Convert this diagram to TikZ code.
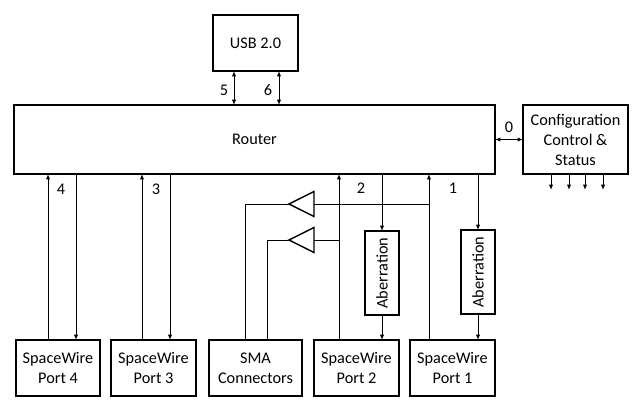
\documentclass[tikz,border=0pt]{standalone}
\usepackage{fontspec}
\setmainfont{Carlito}
\usetikzlibrary{arrows.meta, positioning, shapes.geometric}
\tikzset{
	bx/.style 2 args={draw, line width=1.1pt, align=center, inner sep=0pt, outer sep=0pt,
		minimum width=#1*0.75pt, minimum height=#2*0.75pt, font=\fontsize{12.2}{15}\selectfont},
	sig/.style={line width=0.75pt, -{Latex[length=4pt,width=3.2pt]}},
	plain/.style={line width=0.75pt},
	both/.style={line width=0.75pt, {Latex[length=4pt,width=3.2pt]}-{Latex[length=4pt,width=3.2pt]}},
	buf/.style={draw, line width=1.1pt, isosceles triangle, shape border rotate=180,
		isosceles triangle stretches, inner sep=0pt, outer sep=0pt,
		minimum width=18.75pt, minimum height=18.75pt, anchor=apex},
	lbl/.style={font=\fontsize{12.2}{15}\selectfont, inner sep=0pt}
}
\begin{document}
\begin{tikzpicture}[x=0.75pt, y=-0.75pt]
	\useasboundingbox (0,0) rectangle (637,405);
	
	% Main blocks
	\node[bx={481}{69}] (router) at (254.5,139.5) {Router};
	\node[bx={85}{56}] (usb) at (255.5,43) {USB 2.0};
	\node[bx={105}{69}] (config) at (575.5,139.5) {Configuration\\Control \&\\Status};
	
	% Bottom row
	\node[bx={84}{56}] (port4) at (58,368) {SpaceWire\\Port 4};
	\node[bx={85}{56}] (port3) at (153.5,368) {SpaceWire\\Port 3};
	\node[bx={93}{56}] (sma) at (255.5,368) {SMA\\Connectors};
	\node[bx={85}{56}] (port2) at (356.5,368) {SpaceWire\\Port 2};
	\node[bx={85}{56}] (port1) at (452.5,368) {SpaceWire\\Port 1};
	
	% Aberration blocks
	\node[bx={84}{34}, rotate=90] (aber2) at (382,273) {Aberration};
	\node[bx={84}{34}, rotate=90] (aber1) at (478,272) {Aberration};
	
	% Wire positions
	\foreach \n/\x in {up4/48, dn4/76, up3/142, dn3/170, ln1/245, ln2/267, up2/339, dn2/382, up1/429, dn1/478, usb5/234, usb6/279, st1/551, st2/569, st3/585, st4/603}
		\coordinate (\n) at (\x,190);
	
	% Line drivers
	\node[buf] (buf1) at (289,204) {};
	\node[buf] (buf2) at (289,240) {};
	
	% USB links
	\draw[both] (usb.south -| usb5) -- (router.north -| usb5);
	\draw[both] (usb.south -| usb6) -- (router.north -| usb6);
	\draw[both] (router.east |- config.west) -- (config.west);
	
	% Status outputs
	\foreach \n in {st1,st2,st3,st4}
		\draw[sig] (config.south -| \n) -- (\n);
	
	% Ports 4 and 3
	\draw[sig] (port4.north -| up4) -- (router.south -| up4);
	\draw[sig] (router.south -| dn4) -- (port4.north -| dn4);
	\draw[sig] (port3.north -| up3) -- (router.south -| up3);
	\draw[sig] (router.south -| dn3) -- (port3.north -| dn3);
	
	% Ports 2 and 1
	\draw[sig] (port2.north -| up2) -- (router.south -| up2);
	\draw[sig] (router.south -| dn2) -- (aber2.east);
	\draw[sig] (aber2.west) -- (port2.north -| dn2);
	\draw[sig] (port1.north -| up1) -- (router.south -| up1);
	\draw[sig] (router.south -| dn1) -- (aber1.east);
	\draw[sig] (aber1.west) -- (port1.north -| dn1);
	
	% SMA taps
	\draw[plain] (buf1.lower side) -- (buf1.lower side -| up1);
	\draw[plain] (buf2.lower side) -- (buf2.lower side -| up2);
	\draw[plain] (buf1.apex) -| (sma.north -| ln1);
	\draw[plain] (buf2.apex) -| (sma.north -| ln2);
	
	% Link numbers
	\node[lbl] (n0) at (509,127) {0};
	\node[lbl] (n1) at (453,188) {1};
	\node[lbl] (n2) at (361,188) {2};
	\node[lbl] (n3) at (156,189) {3};
	\node[lbl] (n4) at (61,189) {4};
	\node[lbl] (n5) at (224,90) {5};
	\node[lbl] (n6) at (268,90) {6};
\end{tikzpicture}
\end{document}
